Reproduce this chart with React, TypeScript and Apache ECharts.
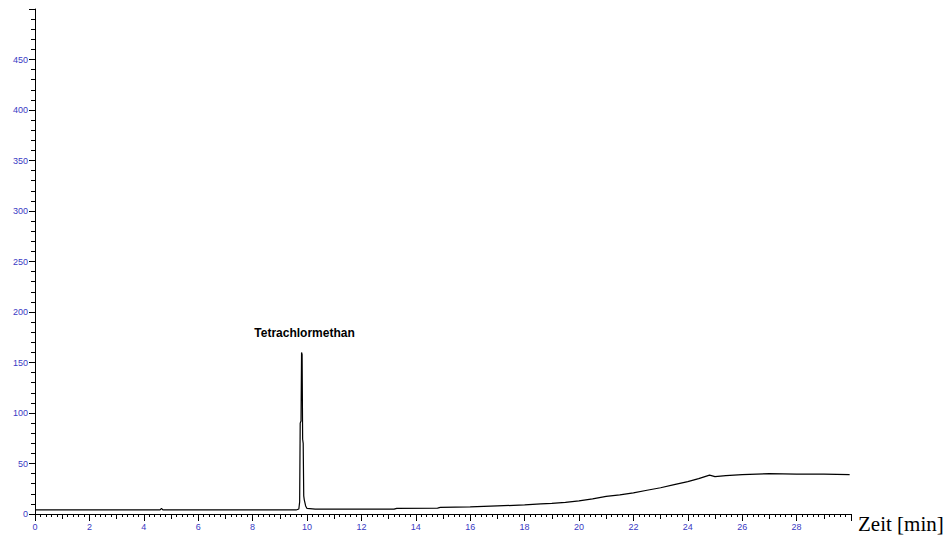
import React, { useEffect, useRef } from "react";
import * as echarts from "echarts";

const times = [
  0, 4.6, 4.65, 4.7, 9.6, 9.7, 9.73, 9.75, 9.78, 9.8, 9.82, 9.84, 9.86, 9.88, 9.9, 9.95, 10.0, 10.3,
  13.2, 13.3, 14.8, 14.9, 16, 17, 18, 18.6, 19, 19.5, 20, 20.5, 21, 21.5, 22, 22.5, 23, 23.5, 24,
  24.4, 24.8, 25.0, 25.4, 26, 27, 28, 29, 29.95,
];
const signal = [
  4, 4, 5.5, 4, 4, 5, 12, 90, 92, 160, 158, 74, 70, 18, 14, 8, 5.5, 4.8,
  4.8, 5.6, 5.9, 6.5, 7, 8, 9, 10, 10.5, 11.5, 13, 15, 17.5, 19, 21, 23.5, 26, 29, 32,
  35, 38.5, 37, 38, 39, 40, 39.5, 39.5, 39,
];
const peakTime = 9.8;
const peakValue = 160;
const peakName = "Tetrachlormethan";
const xAxisTitle = "Zeit [min]";
const xTickLabels = [0, 2, 4, 6, 8, 10, 12, 14, 16, 18, 20, 22, 24, 26, 28];
const yTickLabels = [0, 50, 100, 150, 200, 250, 300, 350, 400, 450];

const labelColor = "#3a3ac4";

export default function App() {
  const ref = useRef<HTMLDivElement>(null);
  useEffect(() => {
    if (!ref.current) return;
    const chart = echarts.init(ref.current, null, { renderer: "svg" });
    const data = times.map((t, i) => [t, signal[i]]);
    const xBase = {
      type: "value" as const,
      min: 0,
      max: 30,
      position: "bottom" as const,
      splitLine: { show: false },
    };
    chart.setOption({
      animation: false,
      grid: { left: 35, right: 96, top: 9, bottom: 25, containLabel: false },
      xAxis: [
        {
          ...xBase,
          interval: 2,
          axisLine: { show: true, lineStyle: { color: "#000", width: 1 } },
          axisTick: { show: true, length: 7, lineStyle: { color: "#000" } },
          minorTick: { show: true, splitNumber: 10, length: 3, lineStyle: { color: "#000" } },
          axisLabel: {
            color: labelColor,
            fontSize: 9,
            fontFamily: "Liberation Sans, Arial",
            margin: 8,
            formatter: (v: number) => (xTickLabels.includes(v) ? String(v) : ""),
          },
        },
        {
          ...xBase,
          interval: 1,
          axisLine: { show: false },
          axisTick: { show: true, length: 5, lineStyle: { color: "#000" } },
          axisLabel: { show: false },
        },
      ],
      yAxis: {
        type: "value",
        min: 0,
        max: 500,
        interval: 50,
        splitLine: { show: false },
        axisLine: { show: true, lineStyle: { color: "#000", width: 1 } },
        axisTick: { show: true, length: 6, lineStyle: { color: "#000" } },
        minorTick: { show: true, splitNumber: 5, length: 4, lineStyle: { color: "#000" } },
        axisLabel: {
          color: labelColor,
          fontSize: 9,
          fontFamily: "Liberation Sans, Arial",
          margin: 7,
          formatter: (v: number) => (yTickLabels.includes(v) ? String(v) : ""),
        },
      },
      graphic: [
        {
          type: "text",
          left: 858,
          top: 513,
          style: {
            text: xAxisTitle,
            fill: "#000",
            fontSize: 21,
            fontFamily: "Liberation Serif, Times New Roman, serif",
          },
        },
      ],
      series: [
        {
          type: "line",
          xAxisIndex: 0,
          data,
          showSymbol: false,
          symbol: "none",
          lineStyle: { color: "#000", width: 1.2 },
          markPoint: {
            symbol: "circle",
            symbolSize: 0,
            data: [{ coord: [peakTime, peakValue] }],
            label: {
              show: true,
              position: "top",
              distance: 13,
              formatter: peakName,
              color: "#000",
              fontWeight: "bold",
              fontSize: 12,
              fontFamily: "Liberation Sans, Arial",
              offset: [3, 0],
            },
          },
        },
      ],
    });
    return () => chart.dispose();
  }, []);
  return <div ref={ref} style={{ width: 947, height: 539, position: "absolute", left: 0, top: 0, background: "#fff" }} />;
}
